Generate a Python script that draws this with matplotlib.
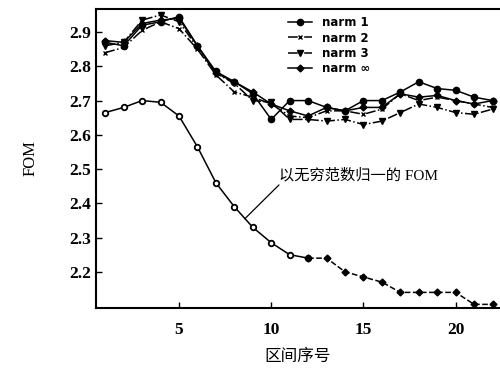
import matplotlib
matplotlib.use("Agg")
import matplotlib.pyplot as plt

plt.rcParams['font.family'] = ['Liberation Serif', 'Noto Sans CJK SC', 'DejaVu Sans']

x = list(range(1, 23))
narm1 = [2.87, 2.86, 2.92, 2.93, 2.945, 2.86, 2.785, 2.755, 2.72, 2.645, 2.70, 2.70,
         2.68, 2.67, 2.70, 2.70, 2.725, 2.755, 2.735, 2.73, 2.71, 2.70]
narm2 = [2.84, 2.855, 2.905, 2.93, 2.91, 2.85, 2.775, 2.725, 2.71, 2.69, 2.655, 2.65,
         2.67, 2.67, 2.66, 2.675, 2.72, 2.70, 2.71, 2.70, 2.69, 2.68]
narm3 = [2.86, 2.87, 2.935, 2.95, 2.93, 2.855, 2.78, 2.75, 2.70, 2.695, 2.645, 2.645,
         2.64, 2.645, 2.63, 2.64, 2.665, 2.69, 2.68, 2.665, 2.66, 2.675]
narminf = [2.875, 2.87, 2.925, 2.935, 2.94, 2.86, 2.78, 2.755, 2.725, 2.69, 2.67, 2.655,
           2.68, 2.67, 2.68, 2.68, 2.72, 2.71, 2.715, 2.70, 2.69, 2.70]
normalized = [2.665, 2.68, 2.70, 2.695, 2.655, 2.565, 2.46, 2.39, 2.33, 2.285, 2.25, 2.24,
              2.24, 2.20, 2.185, 2.17, 2.14, 2.14, 2.14, 2.14, 2.105, 2.105]
labels = ['narm 1', 'narm 2', 'narm 3', 'narm ∞']
xticks = [5, 10, 15, 20]
yticks = [2.2, 2.3, 2.4, 2.5, 2.6, 2.7, 2.8, 2.9]

fig = plt.figure(figsize=(5, 3.8), dpi=100)
ax = fig.add_axes([0.192, 0.19, 0.806, 0.786])

ax.plot(x, narm1, '-', color='black', lw=1.1, marker='o', ms=4.5, label=labels[0])
ax.plot(x, narm2, '-.', color='black', lw=1.1, marker='x', ms=3.5, label=labels[1])
ax.plot(x, narm3, '-.', color='black', lw=1.1, marker='v', ms=4.5, label=labels[2])
ax.plot(x, narminf, '-', color='black', lw=1.1, marker='D', ms=3.5, label=labels[3])

ax.plot(x[:12], normalized[:12], '-', color='black', lw=1.1, marker='o', ms=4,
        mfc='white', mew=1.3)
ax.plot(x[11:], normalized[11:], '--', color='black', lw=1.1, marker='D', ms=3.5)

ax.annotate('以无穷范数归一的 FOM', xy=(8.57, 2.355), xytext=(10.4, 2.483),
            fontsize=11, va='center', ha='left',
            arrowprops=dict(arrowstyle='-', color='black', lw=0.9,
                            shrinkA=0, shrinkB=0, relpos=(0.02, 0.0)))

ax.set_xlim(0.5, 22.35)
ax.set_ylim(2.095, 2.967)
ax.set_xticks(xticks)
ax.set_yticks(yticks)
ax.tick_params(direction='in', length=4, width=1, labelsize=12.5)
for lab in ax.get_xticklabels() + ax.get_yticklabels():
    lab.set_fontweight('bold')
ax.tick_params(axis='x', pad=10)
ax.spines['right'].set_visible(False)
for s in ['left', 'bottom', 'top']:
    ax.spines[s].set_linewidth(1.5)

ax.set_xlabel('区间序号', fontsize=12, labelpad=8)
ax.set_ylabel('FOM', fontsize=12, labelpad=22)

ax.legend(loc='upper left', bbox_to_anchor=(0.46, 1.0), frameon=False,
          prop={'family': ['DejaVu Sans'], 'weight': 'bold', 'size': 8.5},
          handlelength=2.0, labelspacing=0.2, borderaxespad=0.2)

fig.savefig('out.png', dpi=100)
